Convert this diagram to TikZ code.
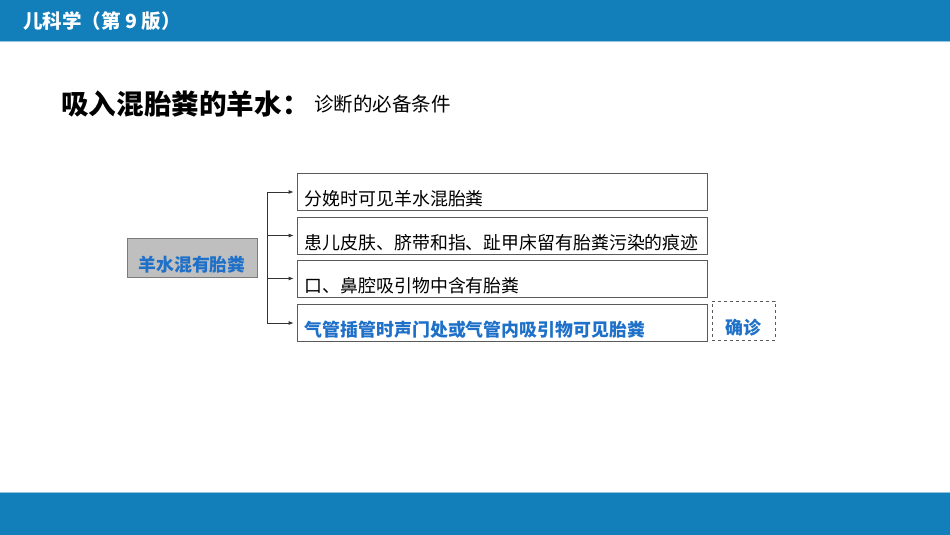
\documentclass[tikz,border=0pt]{standalone}
\usepackage{fontspec}
\usepackage{xcolor}
\setmainfont{Noto Sans CJK SC}
\definecolor{barblue}{RGB}{18, 126, 186}
\definecolor{keyblue}{RGB}{30, 112, 200}
\definecolor{boxgray}{RGB}{191, 191, 191}
\definecolor{edgegray}{RGB}{90, 90, 90}
\usetikzlibrary{arrows.meta,positioning}
\newcommand{\keytext}[1]{\textbf{\textcolor{keyblue}{#1}}}
\tikzset{
  itembox/.style={draw=edgegray, line width=0.8pt, minimum width=410pt, minimum height=37pt, inner sep=0pt},
  itemtext/.style={anchor=west, inner sep=0pt, font=\fontsize{17.9pt}{20pt}\selectfont},
  branch/.style={draw=black!80, line width=0.8pt, -{Latex[length=5pt,width=4pt]}}
}

\begin{document}
\begin{tikzpicture}[x=1pt, y=-1pt]
  \useasboundingbox (0,0) rectangle (950,535);
  % title bar and footer
  \fill[barblue] (0,0) rectangle (950,41);
  \fill[barblue!45] (0,41) rectangle (950,42);
  \fill[barblue] (0,493) rectangle (950,535);
  \fill[barblue!45] (0,492) rectangle (950,493);
  \node[anchor=west, inner sep=0pt, text=white, font=\fontsize{19.5pt}{22pt}\selectfont\bfseries] (title) at (23,21) {儿科学（第 9 版）};

  % heading
  \node[anchor=west, inner sep=0pt, font=\fontsize{27.6pt}{30pt}\selectfont\bfseries] (head) at (61,104) {吸入混胎粪的羊水：};
  \node[anchor=west, inner sep=0pt, font=\fontsize{19.5pt}{22pt}\selectfont] (sub) at ([xshift=4pt]head.east) {诊断的必备条件};

  % source box
  \node[fill=boxgray, draw=edgegray!80, line width=0.8pt, minimum width=130pt, minimum height=39pt, inner sep=0pt] (src) at (192,257.5) {};
  \node[itemtext, anchor=center] (srct) at ([yshift=-7pt]src.center) {\keytext{羊水混有胎粪}};

  % criteria
  \node[itembox] (c1) at (502,192) {};
  \node[itembox] (c2) at (502,235.5) {};
  \node[itembox] (c3) at (502,278.5) {};
  \node[itembox] (c4) at (502,323) {};
  \node[itemtext] (c1t) at ([xshift=8pt, yshift=-7pt]c1.west) {分娩时可见羊水混胎粪};
  \node[itemtext] (c2t) at ([xshift=8pt, yshift=-7pt]c2.west) {患儿皮肤、脐带和指、趾甲床留有胎粪污染的痕迹};
  \node[itemtext] (c3t) at ([xshift=8pt, yshift=-7pt]c3.west) {口、鼻腔吸引物中含有胎粪};
  \node[itemtext] (c4t) at ([xshift=8pt, yshift=-7pt]c4.west) {\keytext{气管插管时声门处或气管内吸引物可见胎粪}};

  % diagnosis
  \node[draw=edgegray, dashed, line width=0.8pt, minimum width=63pt, minimum height=39pt, inner sep=0pt] (dx) at (743.5,320.5) {};
  \node[itemtext, anchor=center] (dxt) at ([yshift=-7pt]dx.center) {\keytext{确诊}};

  % branches
  \coordinate (fork) at (267,0);
  \draw[draw=black!80, line width=0.8pt] (fork |- c1) -- (fork |- c4);
  \foreach \c in {c1,c2,c3,c4}
    \draw[branch, shorten >=3pt] (fork |- \c) -- (\c.west);
\end{tikzpicture}
\end{document}
